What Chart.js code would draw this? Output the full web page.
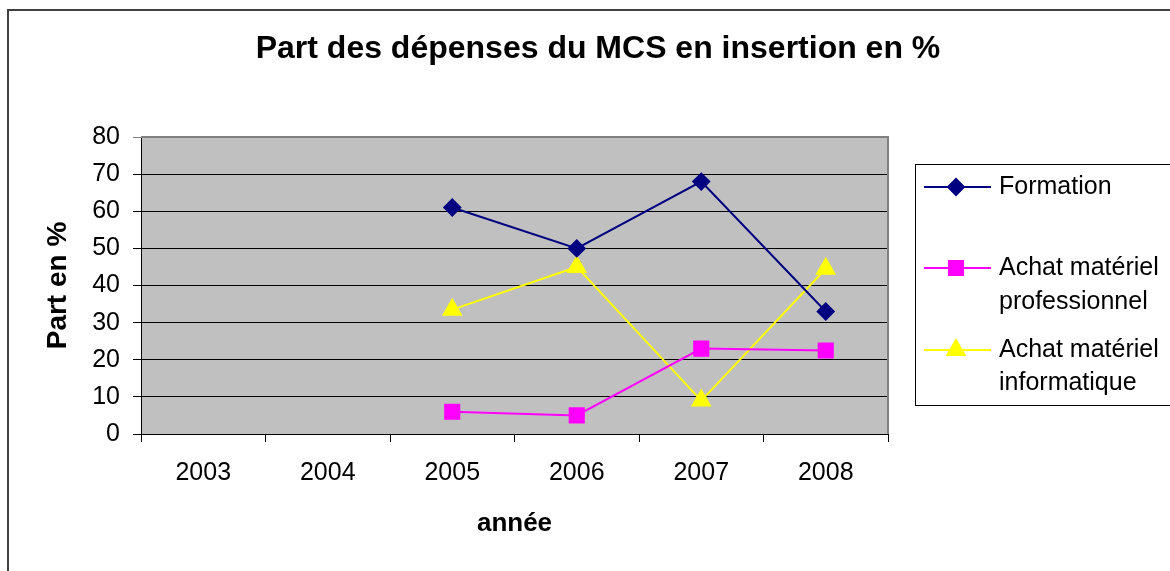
<!DOCTYPE html>
<html>
<head>
<meta charset="utf-8">
<script src="https://cdn.jsdelivr.net/npm/chart.js@4.4.1/dist/chart.umd.min.js"></script>
<style>
  html, body { margin: 0; padding: 0; background: #fff; }
  #wrap { width: 1170px; height: 571px; }
</style>
</head>
<body>
<div id="wrap"><canvas id="c" width="1170" height="571"></canvas></div>
<script>
// ---- Data ----
const years = ['2003', '2004', '2005', '2006', '2007', '2008'];
const formation = [null, null, 61, 50, 68, 33];
const achatPro = [null, null, 6, 5, 23, 22.5];
const achatInfo = [null, null, 33.5, 45, 9, 44.5];
const seriesLabels = [['Formation'], ['Achat matériel', 'professionnel'], ['Achat matériel', 'informatique']];
const yTicks = [0, 10, 20, 30, 40, 50, 60, 70, 80];
const chartTitle = 'Part des dépenses du MCS en insertion en %';
const yTitle = 'Part en %';
const xTitle = 'année';

const FONT = '"Liberation Sans", Arial, Helvetica, sans-serif';

const frame = {
  id: 'frame',
  beforeDraw(chart) {
    const ctx = chart.ctx;
    const a = chart.chartArea;
    ctx.save();
    ctx.fillStyle = '#ffffff';
    ctx.fillRect(0, 0, chart.width, chart.height);
    // outer border
    ctx.strokeStyle = '#404040';
    ctx.lineWidth = 2;
    ctx.strokeRect(8, 10, chart.width + 20, chart.height + 20);
    // plot background
    ctx.fillStyle = '#c0c0c0';
    ctx.fillRect(a.left, a.top, a.right - a.left, a.bottom - a.top);
    ctx.restore();
  },
  beforeDatasetsDraw(chart) {
    const ctx = chart.ctx;
    const a = chart.chartArea;
    ctx.save();
    ctx.strokeStyle = '#808080';
    ctx.lineWidth = 2;
    ctx.beginPath();
    ctx.moveTo(a.left, a.top);
    ctx.lineTo(a.right, a.top);
    ctx.lineTo(a.right, a.bottom);
    ctx.stroke();
    ctx.restore();
  },
  afterDraw(chart) {
    const ctx = chart.ctx;
    ctx.save();
    // title
    ctx.fillStyle = '#000';
    ctx.font = 'bold 32px ' + FONT;
    ctx.textAlign = 'center';
    ctx.textBaseline = 'alphabetic';
    ctx.fillText(chartTitle, 598, 58);
    // legend
    ctx.strokeStyle = '#000';
    ctx.lineWidth = 1;
    ctx.strokeRect(915.5, 164.5, 300, 241);
    const rows = [[187], [268, 302], [350, 383]];
    ctx.font = '25px ' + FONT;
    ctx.textAlign = 'left';
    ctx.textBaseline = 'middle';
    chart.data.datasets.forEach((ds, i) => {
      const y = rows[i][0];
      ctx.strokeStyle = ds.borderColor;
      ctx.lineWidth = 2;
      ctx.beginPath();
      ctx.moveTo(924, y);
      ctx.lineTo(991, y);
      ctx.stroke();
      ctx.fillStyle = ds.pointBackgroundColor;
      ctx.strokeStyle = ds.pointBorderColor;
      Chart.helpers.drawPoint(ctx, {pointStyle: ds.pointStyle, radius: ds.pointRadius, rotation: 0, borderWidth: 1}, 956, y);
      ctx.fillStyle = '#000';
      seriesLabels[i].forEach((t, k) => ctx.fillText(t, 999, rows[i][k]));
    });
    ctx.restore();
  }
};

new Chart(document.getElementById('c'), {
  type: 'line',
  data: {
    labels: years,
    datasets: [
      { label: seriesLabels[0].join(' '), data: formation, borderColor: '#000080', backgroundColor: '#000080',
        pointBackgroundColor: '#000080', pointBorderColor: '#000080', pointStyle: 'rectRot', pointRadius: 8, borderWidth: 2 },
      { label: seriesLabels[1].join(' '), data: achatPro, borderColor: '#ff00ff', backgroundColor: '#ff00ff',
        pointBackgroundColor: '#ff00ff', pointBorderColor: '#ff00ff', pointStyle: 'rect', pointRadius: 10, borderWidth: 2 },
      { label: seriesLabels[2].join(' '), data: achatInfo, borderColor: '#ffff00', backgroundColor: '#ffff00',
        pointBackgroundColor: '#ffff00', pointBorderColor: '#ffff00', pointStyle: 'triangle', pointRadius: 10, borderWidth: 2 }
    ]
  },
  options: {
    responsive: false,
    animation: false,
    events: [],
    layout: { padding: { left: 0, top: 137, right: 282, bottom: 0 } },
    plugins: { legend: { display: false }, title: { display: false }, tooltip: { enabled: false } },
    elements: { line: { tension: 0 }, point: { borderWidth: 1 } },
    scales: {
      x: {
        offset: true,
        grid: { display: true, drawOnChartArea: false, drawTicks: true, tickLength: 8, color: '#000', offset: true },
        border: { display: true, color: '#000', width: 1 },
        ticks: { color: '#000', font: { family: FONT, size: 25 }, padding: 16, maxRotation: 0, autoSkip: false },
        title: { display: true, text: xTitle, color: '#000', font: { family: FONT, size: 26, weight: 'bold' }, padding: { top: 0, bottom: 32 } },
        afterFit(scale) { scale.height = 137; }
      },
      y: {
        min: 0, max: 80,
        afterBuildTicks(scale) { scale.ticks = yTicks.map(v => ({ value: v })); },
        grid: { display: true, drawOnChartArea: true, drawTicks: true, tickLength: 8,
          color: (c) => (c.tick && c.tick.value === 80) ? '#808080' : '#000', lineWidth: 1 },
        border: { display: true, color: '#000', width: 1 },
        ticks: { color: '#000', font: { family: FONT, size: 25 }, padding: 13 },
        title: { display: true, text: yTitle, color: '#000', font: { family: FONT, size: 28, weight: 'bold' }, padding: { top: 41, bottom: 0 } },
        afterFit(scale) { scale.width = 141; }
      }
    }
  },
  plugins: [frame]
});
</script>
</body>
</html>
